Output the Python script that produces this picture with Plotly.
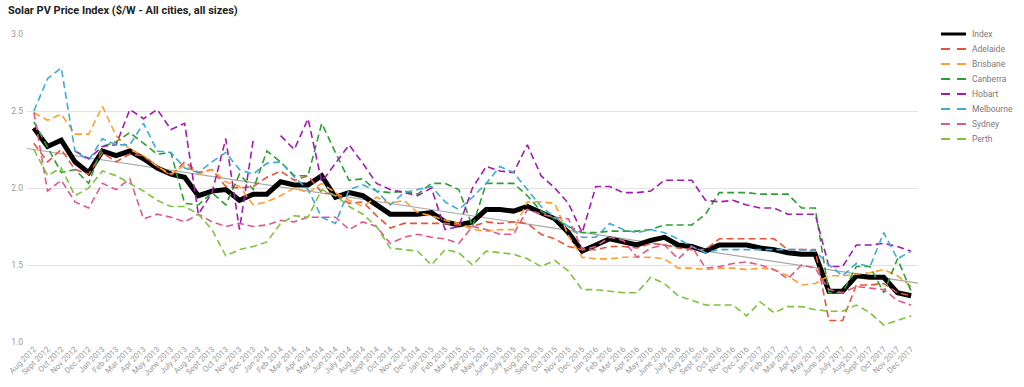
import numpy as np
import plotly.graph_objects as go

months = [
    "Aug 2012", "Sept 2012", "Oct 2012", "Nov 2012", "Dec 2012",
    "Jan 2013", "Feb 2013", "Mar 2013", "Apr 2013", "May 2013", "June 2013", "July 2013",
    "Aug 2013", "Sept 2013", "Oct 2013", "Nov 2013", "Dec 2013",
    "Jan 2014", "Feb 2014", "Mar 2014", "Apr 2014", "May 2014", "Jun 2014", "July 2014",
    "Aug 2014", "Sept 2014", "Oct 2014", "Nov 2014", "Dec 2014",
    "Jan 2015", "Feb 2015", "Mar 2015", "Apr 2015", "May 2015", "June 2015", "July 2015",
    "Aug 2015", "Sept 2015", "Oct 2015", "Nov 2015", "Dec 2015",
    "Jan 2016", "Feb 2016", "Mar 2016", "Apr 2016", "May 2016", "June 2016", "July 2016",
    "Aug 2016", "Sept 2016", "Oct 2016", "Nov 2016", "Dec 2016",
    "Jan 2017", "Feb 2017", "Mar 2017", "Apr 2017", "May 2017", "June 2017", "July 2017",
    "Aug 2017", "Sept 2017", "Oct 2017", "Nov 2017", "Dec 2017",
]

index = [2.39, 2.27, 2.31, 2.17, 2.10, 2.24, 2.21, 2.24, 2.19, 2.13,
         2.09, 2.07, 1.95, 1.98, 1.99, 1.92, 1.96, 1.96, 2.04, 2.02,
         2.02, 2.08, 1.94, 1.97, 1.95, 1.89, 1.83, 1.83, 1.83, 1.84,
         1.78, 1.76, 1.78, 1.86, 1.86, 1.85, 1.88, 1.84, 1.80, 1.71,
         1.59, 1.63, 1.67, 1.65, 1.63, 1.66, 1.68, 1.63, 1.62, 1.59,
         1.63, 1.63, 1.63, 1.61, 1.60, 1.58, 1.57, 1.57, 1.33, 1.33,
         1.43, 1.42, 1.42, 1.32, 1.30]

adelaide = [2.29, 2.17, 2.25, 2.12, 2.09, 2.23, 2.17, 2.22, 2.21, 2.14,
            2.08, 2.17, 2.10, 2.12, 2.01, 2.00, 2.01, 2.07, 2.11, 2.05,
            2.08, 1.97, 1.96, 1.90, 1.91, 1.82, 1.74, 1.77, 1.77, 1.77,
            1.77, 1.76, 1.75, 1.78, 1.77, 1.78, 1.77, 1.70, 1.67, 1.62,
            1.60, 1.60, 1.62, 1.62, 1.61, 1.64, 1.63, 1.61, 1.60, 1.60,
            1.67, 1.67, 1.67, 1.67, 1.67, 1.60, 1.60, 1.60, 1.14, 1.14,
            1.37, 1.37, 1.38, 1.32, 1.30]

brisbane = [2.49, 2.44, 2.48, 2.35, 2.35, 2.53, 2.34, 2.25, 2.21, 2.14,
            2.09, 2.15, 2.09, 2.12, 2.04, 2.01, 1.89, 1.91, 1.95, 2.00,
            1.97, 2.03, 1.97, 1.92, 1.88, 1.94, 1.90, 1.92, 1.84, 1.82,
            1.79, 1.77, 1.73, 1.72, 1.73, 1.73, 1.91, 1.91, 1.90, 1.69,
            1.55, 1.54, 1.54, 1.55, 1.55, 1.55, 1.54, 1.48, 1.48, 1.47,
            1.48, 1.48, 1.47, 1.48, 1.47, 1.43, 1.37, 1.38, 1.43, 1.43,
            1.44, 1.45, 1.47, 1.43, 1.36]

canberra = [2.43, 2.26, 2.10, 2.12, 2.03, 2.27, 2.30, 2.36, 2.29, 2.22,
            2.23, 1.90, 1.89, 1.97, 1.89, 2.09, 1.99, 2.24, 2.17, 2.08,
            2.08, 2.42, 2.23, 2.05, 2.06, 1.98, 1.97, 1.98, 1.96, 2.03,
            2.03, 1.99, 1.75, 2.03, 2.03, 2.03, 1.95, 1.85, 1.80, 1.75,
            1.71, 1.71, 1.72, 1.72, 1.72, 1.73, 1.76, 1.76, 1.76, 1.83,
            1.97, 1.97, 1.97, 1.96, 1.96, 1.96, 1.87, 1.87, 1.32, 1.32,
            1.49, 1.49, 1.32, 1.54, 1.33]

hobart = [None, None, None, 2.24, 2.19, 2.27, 2.28, 2.51, 2.45, 2.51,
          2.38, 2.42, 1.83, 1.97, 2.32, 1.73, 2.31, None, 2.34, 2.25,
          2.45, 2.04, 2.16, 2.28, 2.16, 2.03, 1.99, 1.97, 1.95, 2.00,
          1.73, 1.75, 2.00, 2.14, 2.11, 2.10, 2.28, 2.08, 2.00, 1.90,
          1.71, 2.01, 2.01, 1.97, 1.97, 1.98, 2.05, 2.05, 2.05, 1.92,
          1.91, 1.92, 1.89, 1.87, 1.87, 1.83, 1.83, 1.83, 1.49, 1.49,
          1.63, 1.63, 1.64, 1.62, 1.59]

melbourne = [2.50, 2.71, 2.78, 2.24, 2.18, 2.32, 2.28, 2.28, 2.42, 2.24,
             2.23, 2.13, 2.10, 2.17, 2.23, 2.12, 2.09, 2.16, 2.17, 2.07,
             1.99, 1.81, 1.77, 1.99, 2.02, 1.98, 1.89, 1.97, 1.99, 2.01,
             1.91, 1.86, 1.94, 2.03, 2.14, 2.10, 1.99, 1.88, 1.81, 1.75,
             1.68, 1.68, 1.77, 1.73, 1.71, 1.73, 1.71, 1.67, 1.62, 1.58,
             1.60, 1.60, 1.60, 1.60, 1.60, 1.60, 1.60, 1.59, 1.50, 1.43,
             1.51, 1.49, 1.71, 1.54, 1.59]

sydney = [2.49, 1.98, 2.05, 1.91, 1.87, 2.03, 1.99, 2.06, 1.80, 1.83,
          1.81, 1.78, 1.83, 1.78, 1.75, 1.77, 1.75, 1.76, 1.79, 1.78,
          1.81, 1.81, 1.81, 1.73, 1.78, 1.75, 1.64, 1.68, 1.70, 1.68,
          1.67, 1.64, 1.75, 1.73, 1.70, 1.70, 1.86, 1.83, 1.81, 1.80,
          1.60, 1.62, 1.68, 1.66, 1.55, 1.61, 1.63, 1.54, 1.62, 1.48,
          1.49, 1.51, 1.52, 1.50, 1.47, 1.41, 1.50, 1.48, 1.34, 1.32,
          1.36, 1.35, 1.34, 1.27, 1.24]

perth = [2.25, 2.08, 2.13, 1.95, 2.00, 2.11, 2.08, 2.03, 1.98, 1.92,
         1.88, 1.88, 1.83, 1.73, 1.56, 1.60, 1.62, 1.65, 1.77, 1.82,
         1.81, 1.99, 1.95, 1.88, 1.83, 1.75, 1.61, 1.60, 1.59, 1.50,
         1.60, 1.58, 1.50, 1.59, 1.58, 1.57, 1.54, 1.49, 1.53, 1.46,
         1.34, 1.34, 1.33, 1.32, 1.32, 1.42, 1.38, 1.30, 1.27, 1.24,
         1.24, 1.24, 1.17, 1.26, 1.19, 1.23, 1.23, 1.21, 1.20, 1.20,
         1.24, 1.19, 1.11, 1.14, 1.17]

series_names = ["Adelaide", "Brisbane", "Canberra", "Hobart", "Melbourne", "Sydney", "Perth"]
series_values = [adelaide, brisbane, canberra, hobart, melbourne, sydney, perth]
series_colors = ["#e6553a", "#ff9f2e", "#2f9e33", "#a11cae", "#3ea9db", "#e1588b", "#7fc23c"]

FONT = "Roboto, Arial, sans-serif"
DASH = "7px,4px"

x = list(range(len(months)))
fig = go.Figure()

# linear trendline of the index
coef = np.polyfit(x, index, 1)
xt = [-0.5, len(months) - 0.5]
yt = list(np.polyval(coef, xt))
fig.add_trace(go.Scatter(x=xt, y=yt, mode="lines", line=dict(color="#a8a8a8", width=1.2),
                         showlegend=False, hoverinfo="skip"))

fig.add_trace(go.Scatter(x=x, y=index, mode="lines", name="Index",
                         line=dict(color="#000000", width=5), showlegend=False))
for name, vals, col in zip(series_names, series_values, series_colors):
    fig.add_trace(go.Scatter(x=x, y=vals, mode="lines", name=name, connectgaps=False,
                             line=dict(color=col, width=1.6, dash=DASH), showlegend=False))

# plot area in pixels
L, R, T, B = 27, 106, 34, 45
W, H = 1024, 387
pw, ph = W - L - R, H - T - B

def px_x(p):
    return (p - L) / pw

def px_y(p):
    return (H - B - p) / ph

shapes = []
annotations = []
legend_names = ["Index"] + series_names
legend_colors = ["#000000"] + series_colors
for k, (nm, col) in enumerate(zip(legend_names, legend_colors)):
    yy = px_y(34 + 15 * k)
    shapes.append(dict(type="line", xref="paper", yref="paper",
                       x0=px_x(941), x1=px_x(966), y0=yy, y1=yy,
                       line=dict(color=col, width=3 if k == 0 else 2,
                                 dash="solid" if k == 0 else "9px,7px")))
    annotations.append(dict(xref="paper", yref="paper", x=px_x(970), y=yy,
                            xanchor="left", yanchor="middle", text=nm, showarrow=False,
                            font=dict(family=FONT, size=8.5, color="#7a7a7a")))

fig.update_layout(
    width=W, height=H,
    autosize=False,
    margin=dict(l=L, r=R, t=T, b=B, pad=0, autoexpand=False),
    paper_bgcolor="white", plot_bgcolor="white",
    title=dict(text="<b>Solar PV Price Index ($/W - All cities, all sizes)</b>",
               x=8 / W, xanchor="left", xref="container",
               y=1 - 10 / H, yanchor="middle", yref="container",
               font=dict(family=FONT, size=11, color="#222222")),
    showlegend=False,
    hovermode=False,
    shapes=shapes,
    annotations=annotations,
    xaxis=dict(range=[-0.5, len(months) - 0.5], tickmode="array", tickvals=x, ticktext=months,
               tickangle=-45, tickfont=dict(family=FONT, size=8, color="#9a9a9a"),
               showgrid=False, zeroline=False, showline=False, ticks="", automargin=False),
    yaxis=dict(range=[1.0, 3.0], tickmode="array", tickvals=[1.0, 1.5, 2.0, 2.5, 3.0],
               ticktext=["1.0", "1.5", "2.0", "2.5", "3.0"],
               tickfont=dict(family=FONT, size=8.5, color="#9a9a9a"), ticklabelstandoff=3,
               showgrid=True, gridcolor="#e3e3e3", gridwidth=1, zeroline=False,
               showline=False, ticks="", automargin=False),
)

fig.write_html("out.html", config={"displayModeBar": False, "staticPlot": True},
               post_script="document.body.style.margin='0';document.body.style.padding='0';")
